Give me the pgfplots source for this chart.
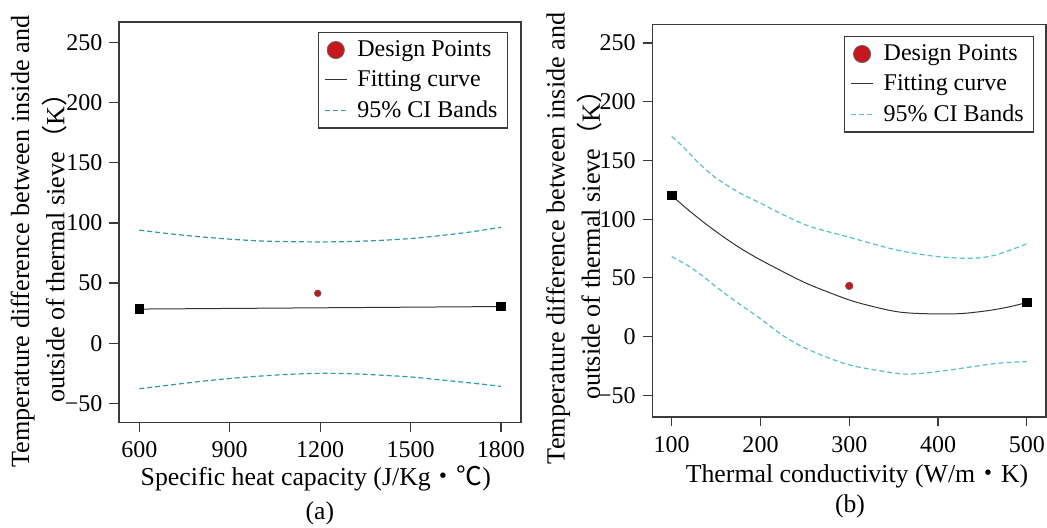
\documentclass[border=0pt]{standalone}
\usepackage{pgfplots}
\pgfplotsset{compat=1.18}
\usepackage{fontspec}
\setmainfont{Liberation Serif}
\newfontfamily\cjk{Noto Sans CJK SC}
\definecolor{framecol}{HTML}{3A3A3A}
\definecolor{cil}{HTML}{2A9DAB}
\definecolor{cir}{HTML}{55C2CC}
\definecolor{dpred}{HTML}{C8161E}
\pgfplotsset{
 mystyle/.style={
  scale only axis,
  ytick={-50,0,50,100,150,200,250},
  yticklabels={−50,0,50,100,150,200,250},
  axis line style={framecol, line width=0.8pt},
  tick style={framecol, line width=0.6pt},
  tick align=outside, major tick length=4.8pt,
  xtick pos=bottom, ytick pos=left,
  ticklabel style={font=\fontsize{12}{13.5}\selectfont},
  xticklabel style={inner sep=1pt, yshift=-3.8pt},
  /pgf/number format/assume math mode=true,
  /pgf/number format/set thousands separator={},
  ylabel style={anchor=center, align=center, font=\fontsize{13.1}{17.6}\selectfont},
  xlabel style={anchor=center, inner sep=0pt, font=\fontsize{12.9}{15}\selectfont},
  legend cell align=left,
  legend style={anchor=north east, draw=framecol, line width=0.6pt,
    font=\fontsize{12}{15}\selectfont, inner xsep=3pt, inner ysep=2pt,
    row sep=1.5pt},
 },
 dpimg/.style={legend image code/.code={\path[draw=none,fill=none] (0cm,0cm) -- (0.50cm,0cm);\draw[fill=dpred,draw=black!60,line width=0.4pt] (0.19cm,0cm) circle (4.3pt);}},
 lnimg/.style={legend image code/.code={\path[draw=none,fill=none] (0cm,0cm) -- (0.50cm,0cm);\draw[##1] (0cm,0cm) -- (0.38cm,0cm);}},
}
\begin{document}
\begin{tikzpicture}
\useasboundingbox (-59.5pt,-52.35pt) rectangle (464pt,211.15pt);
% ---------- (a)
\begin{axis}[mystyle, name=A, width=200.85pt, height=200.3pt,
  xmin=532.6, xmax=1865.4, ymin=-65.7, ymax=267.2,
  xtick={600,900,1200,1500,1800},
  ylabel={Temperature difference between inside and\\outside of thermal sieve{\cjk （}K{\cjk ）}},
  ylabel style={at={(axis description cs:-0.1997,0.451)}},
  xlabel={Specific heat capacity (J/Kg\smash{\cjk ・℃})},
  xlabel style={at={(axis description cs:0.49,-0.1425)}},
  legend style={at={(axis description cs:0.9684,0.9743)}},
]
\addplot[only marks, mark=*, mark size=1.7pt, mark options={fill=dpred, draw=black!60, line width=0.3pt}, dpimg] coordinates {(1192,41.5)};
\addlegendentry{Design Points}
\addplot[color=black!80, line width=0.5pt, lnimg] coordinates {(600,28.4) (1800,30.5)};
\addlegendentry{Fitting curve}
\addplot[color=cil, line width=0.6pt, dash pattern=on 2.5pt off 1.5pt, smooth, lnimg] coordinates {
 (600,94) (700,91) (800,88.5) (900,86.5) (1000,85) (1100,84.4) (1200,84.2) (1300,84.5) (1400,85.5) (1500,87) (1600,89.5) (1700,92.5) (1800,96.4)};
\addlegendentry{95\% CI Bands}
\addplot[color=cil, line width=0.6pt, dash pattern=on 2.5pt off 1.5pt, smooth, forget plot] coordinates {
 (600,-37.8) (700,-34.8) (800,-31.8) (900,-29.3) (1000,-27.3) (1100,-25.8) (1200,-25) (1300,-25.3) (1400,-26.5) (1500,-28) (1600,-30.5) (1700,-33) (1800,-35.8)};
\addplot[only marks, mark=square*, mark size=2.1pt, color=black, forget plot] coordinates {(600,28.4) (1800,30.5)};
\end{axis}
\node[font=\fontsize{12.8}{15}\selectfont] at ([yshift=-45.5pt]A.south) {(a)};
% ---------- (b)
\begin{axis}[mystyle, name=B, at={(266.65pt,2.8pt)}, width=196.85pt, height=196.2pt,
  xmin=78.1, xmax=521.7, ymin=-68.2, ymax=265.9,
  xtick={100,200,300,400,500},
  ylabel={Temperature difference between inside and\\outside of thermal sieve{\cjk （}K{\cjk ）}},
  ylabel style={at={(axis description cs:-0.198,0.4546)}},
  xlabel={Thermal conductivity (W/m\smash{\cjk ・}K)},
  xlabel style={at={(axis description cs:0.52,-0.1507)}},
  legend style={at={(axis description cs:0.9703,0.9702)}},
]
\addplot[only marks, mark=*, mark size=1.9pt, mark options={fill=dpred, draw=black!60, line width=0.3pt}, dpimg] coordinates {(300,43.2)};
\addlegendentry{Design Points}
\addplot[color=black!80, line width=0.5pt, smooth, lnimg] coordinates {
 (100,120) (120,107) (140,95) (160,84) (180,74) (200,65.3) (225,55.4) (255,44.3) (300,31.2) (330,25) (353,21.3) (372,19.9) (400,19.3) (428,19.7) (458,22.3) (480,25.3) (500,29)};
\addlegendentry{Fitting curve}
\addplot[color=cir, line width=0.6pt, dash pattern=on 2.5pt off 1.5pt, smooth, lnimg] coordinates {
 (100,170.4) (115,160) (130,148) (150,135) (175,123) (200,113.6) (225,104) (255,94) (300,84.6) (353,73.8) (400,68.1) (439,66.7) (465.5,69.6) (500,79)};
\addlegendentry{95\% CI Bands}
\addplot[color=cir, line width=0.6pt, dash pattern=on 2.5pt off 1.5pt, smooth, forget plot] coordinates {
 (100,68.1) (117,61) (135,51.5) (154,40) (173,29.5) (200,15.2) (227,0) (255,-11.4) (300,-24.1) (353,-31.2) (372,-31.8) (400,-29.8) (439,-25.6) (470,-22.5) (500,-21.3)};
\addplot[only marks, mark=square*, mark size=2.1pt, color=black, forget plot] coordinates {(100,120) (500,29)};
\end{axis}
\node[font=\fontsize{12.8}{15}\selectfont] at ([yshift=-45pt,xshift=0.4pt]B.south) {(b)};
\end{tikzpicture}
\end{document}
